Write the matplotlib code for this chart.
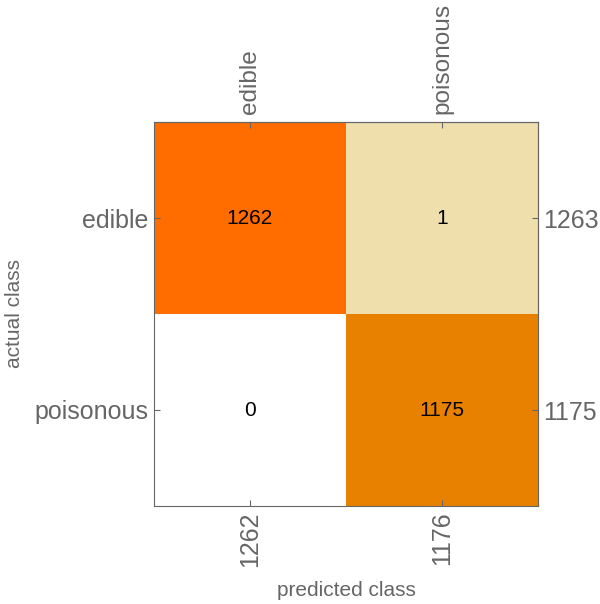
import matplotlib
matplotlib.use("Agg")
import matplotlib.pyplot as plt
import numpy as np
from matplotlib.colors import to_rgb

classes = ["edible", "poisonous"]
counts = [[1262, 1], [0, 1175]]
row_totals = [1263, 1175]
col_totals = [1262, 1176]
cell_colors = [["#FF6C00", "#EEDFAD"], ["#FFFFFF", "#E88000"]]

plt.rcParams['font.family'] = ['Liberation Sans', 'DejaVu Sans']
gray = "#666666"

fig = plt.figure(figsize=(6.0, 6.04), dpi=100)
ax = fig.add_axes([154/600, 1-506/604, 384/600, 384/604])

rgb = np.array([[to_rgb(c) for c in row] for row in cell_colors])
ax.imshow(rgb, aspect='auto', extent=(-0.5, 1.5, 1.5, -0.5), interpolation='nearest')

for i in range(2):
    for j in range(2):
        ax.text(j, i, str(counts[i][j]), ha='center', va='center', fontsize=15, color='black')

ax.set_xlim(-0.5, 1.5)
ax.set_ylim(1.5, -0.5)
ax.set_xticks(range(2))
ax.set_xticklabels([str(v) for v in col_totals], rotation=90, fontsize=18, color=gray)
ax.set_yticks(range(2))
ax.set_yticklabels(classes, fontsize=18, color=gray)
ax.tick_params(direction='in', length=4, color=gray, width=0.8, pad=4)

# top axis: class names
axt = ax.secondary_xaxis('top')
axt.set_xticks(range(2))
axt.set_xticklabels(classes, rotation=90, fontsize=17.6, color=gray)
axt.tick_params(direction='in', length=4, color=gray, width=0.8, pad=6)

# right axis: row totals
axr = ax.secondary_yaxis('right')
axr.set_yticks(range(2))
axr.set_yticklabels([str(v) for v in row_totals], fontsize=18, color=gray)
axr.tick_params(direction='in', length=4, color=gray, width=0.8, pad=4)

for s in ax.spines.values():
    s.set_color(gray)
    s.set_linewidth(0.8)
axt.spines['top'].set_color(gray)
axr.spines['right'].set_color(gray)

fig.text(15/600, 1-313/604, "actual class", rotation=90, ha='center', va='center', fontsize=15, color=gray)
fig.text(346/600, 1-591/604, "predicted class", ha='center', va='center', fontsize=15, color=gray)

fig.savefig("out.png", dpi=100)
